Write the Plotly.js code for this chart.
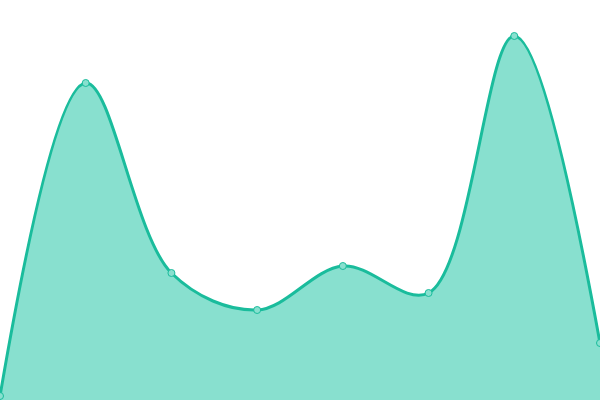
<!DOCTYPE html>
<html>
<head>
<meta charset="utf-8">
<script src="https://cdn.plot.ly/plotly-3.0.1.min.js"></script>
<style>
  html, body { margin: 0; padding: 0; background: #fff; }
  #chart { width: 600px; height: 400px; }
</style>
</head>
<body>
<div id="chart"></div>
<script>
// point positions along x, and heights
const xIndex = [0, 1, 2, 3, 4, 5, 6, 7];
const values = [4, 317, 127, 90, 134, 107, 364, 57];

const trace = {
	x: xIndex,
	y: values,
	type: 'scatter',
	mode: 'lines+markers',
	fill: 'tozeroy',
	fillcolor: '#88e0cf',
	line: { color: '#1abc9c', width: 3, shape: 'spline', smoothing: 1 },
	marker: {
		size: 7,
		color: '#88e0cf',
		line: { color: '#1abc9c', width: 1 },
	},
	cliponaxis: false,
	hoverinfo: 'none',
};

const layout = {
	width: 600,
	height: 400,
	margin: { l: 0, r: 0, t: 0, b: 0 },
	paper_bgcolor: '#ffffff',
	plot_bgcolor: '#ffffff',
	showlegend: false,
	xaxis: { range: [0, 7], visible: false, fixedrange: true },
	yaxis: { range: [0, 400], visible: false, fixedrange: true },
};

Plotly.newPlot('chart', [trace], layout, { displayModeBar: false, staticPlot: true });
</script>
</body>
</html>
